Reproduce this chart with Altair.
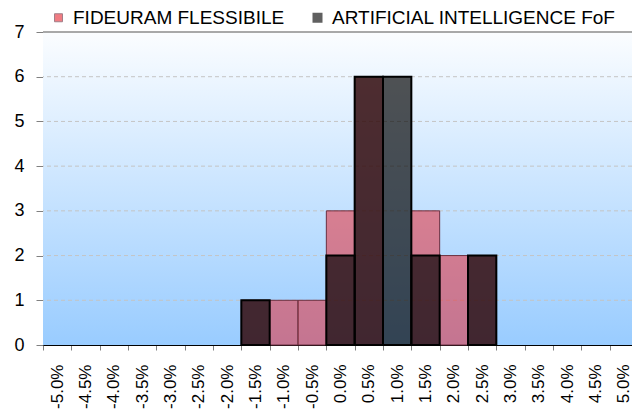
import altair as alt
import pandas as pd

bins = ["-5.0%", "-4.5%", "-4.0%", "-3.5%", "-3.0%", "-2.5%", "-2.0%", "-1.5%",
        "-1.0%", "-0.5%", "0.0%", "0.5%", "1.0%", "1.5%", "2.0%", "2.5%",
        "3.0%", "3.5%", "4.0%", "4.5%", "5.0%"]
series_names = ["FIDEURAM FLESSIBILE", "ARTIFICIAL INTELLIGENCE FoF"]
fideuram = [0, 0, 0, 0, 0, 0, 0, 1, 1, 1, 3, 6, 0, 3, 2, 2, 0, 0, 0, 0, 0]
ai_fof = [0, 0, 0, 0, 0, 0, 0, 1, 0, 0, 2, 6, 6, 2, 0, 2, 0, 0, 0, 0, 0]
y_ticks = [0, 1, 2, 3, 4, 5, 6, 7]
grid_levels = [1, 2, 3, 4, 5, 6]

rows = []
for name, vals in zip(series_names, [fideuram, ai_fof]):
    for b, v in zip(bins, vals):
        rows.append({"bin": b, "series": name, "count": v})
df = pd.DataFrame(rows)

FONT = "Liberation Sans"
W, H = 589, 313
X_RANGE = 595

y_scale = alt.Scale(domain=[0, 7], nice=False)
y_axis = alt.Axis(title=None, values=y_ticks, grid=False, domainColor="#000000",
                  tickColor="#808080", tickSize=7, labelFontSize=18,
                  labelPadding=12, labelColor="#000000", labelFont=FONT)

background = alt.Chart(alt.Data(values=[{}])).mark_rect(
    color=alt.LinearGradient(
        gradient="linear", x1=0, y1=0, x2=0, y2=1,
        stops=[alt.GradientStop(offset=0, color="#fbfdff"),
               alt.GradientStop(offset=1, color="#99ccff")]),
).encode(
    x=alt.value(0), x2=alt.value(W), y=alt.value(0), y2=alt.value(H)
)

grid = alt.Chart(pd.DataFrame({"level": grid_levels})).mark_rule(
    color="#c4c4c4", strokeDash=[4, 3], strokeWidth=1
).encode(
    y=alt.Y("level:Q", axis=y_axis, scale=y_scale)
)

top_line = alt.Chart(alt.Data(values=[{}])).mark_rule(
    color="#8c8c8c", strokeWidth=1.5
).encode(y=alt.datum(7))

bars = alt.Chart(df).transform_filter(
    alt.datum.count > 0
).mark_bar().encode(
    x=alt.X("bin:N", sort=bins,
            scale=alt.Scale(domain=bins, paddingInner=0, paddingOuter=0,
                            range=[0, X_RANGE]),
            axis=alt.Axis(title=None, labelAngle=-90, labelAlign="right",
                          labelBaseline="middle", tickBand="extent", tickSize=5,
                          tickColor="#808080", domainColor="#000000",
                          labelFontSize=17, labelPadding=14, labelColor="#000000",
                          labelFont=FONT, grid=False)),
    y=alt.Y("count:Q", stack=None, scale=y_scale, axis=y_axis),
    color=alt.Color("series:N", sort=series_names,
                    scale=alt.Scale(domain=series_names, range=["#e82d37", "#000000"]),
                    legend=alt.Legend(title=None, orient="none", direction="horizontal",
                                      legendX=6, legendY=-24, symbolType="square",
                                      symbolSize=64, symbolStrokeWidth=1,
                                      symbolOpacity=0.62,
                                      labelFontSize=19, labelFont=FONT,
                                      labelColor="#000000", labelLimit=500,
                                      labelOffset=5, columnPadding=23)),
    fillOpacity=alt.FillOpacity("series:N", sort=series_names,
                                scale=alt.Scale(domain=series_names, range=[0.55, 0.67])),
    stroke=alt.Stroke("series:N", sort=series_names,
                      scale=alt.Scale(domain=series_names, range=["#6a3040", "#000000"])),
    strokeWidth=alt.StrokeWidth("series:N", sort=series_names,
                                scale=alt.Scale(domain=series_names, range=[1, 2])),
)

chart = alt.layer(background, grid, top_line, bars).properties(
    width=W, height=H,
    autosize=alt.AutoSizeParams(type="none"),
    padding={"left": 35, "top": 24, "right": 0, "bottom": 66},
).configure_view(stroke=None)

chart.save("out.html", embed_options={"renderer": "svg", "actions": False})
